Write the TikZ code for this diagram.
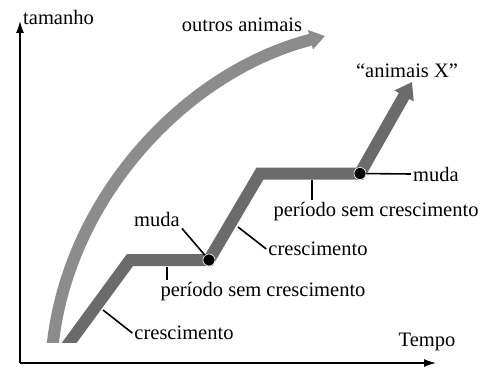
\documentclass[tikz,border=0pt]{standalone}
\usepackage{fontspec}
\setmainfont{Liberation Serif}
\usetikzlibrary{arrows.meta}
\begin{document}
\begin{tikzpicture}[x=1pt, y=1pt,
        every node/.style={font=\fontsize{20.5}{24}\selectfont, inner sep=2pt},
        axis/.style={line width=1.4pt, -{Latex[length=12pt, width=8pt]}},
        leader/.style={line width=1.6pt},
        band/.style={line width=12pt, line join=miter, miter limit=4},
        muda/.style={circle, fill=black, draw=white, line width=0.6pt, minimum size=12pt, inner sep=0pt}]
        \useasboundingbox (0, 0) rectangle (494, 367);

        % eixos
        \coordinate (o) at (20, 4);
        \coordinate (ytop) at (20, 346);
        \coordinate (xend) at (436, 4);
        \draw[axis] (o) -- (ytop);
        \draw[axis] (o) -- (xend);
        \node[anchor=west] (tam) at (21, 350) {tamanho};
        \node (tempo) at (427, 25) {Tempo};

        % animais X
        \coordinate (s0) at (64, 17);
        \coordinate (s1) at (130, 107);
        \node[muda] (m1) at (209, 107) {};
        \coordinate (s2) at (260, 193.5);
        \node[muda] (m2) at (360, 193.5) {};
        \coordinate (xtip) at (412, 285);

        \begin{scope}
            \clip (0, 25) rectangle (494, 367);
            % outros animais
            \draw[band, draw=black!45, -{Triangle[length=15pt, width=19pt]}]
                (52, 17) -- (53, 25) .. controls (70, 170) and (185, 295) .. (325, 331);
            \draw[band, draw=black!58, -{Triangle[length=16pt, width=21pt]}]
                (s0) -- (s1) -- (m1.center) -- (s2) -- (m2.center) -- (xtip);
        \end{scope}
        \node[muda] at (m1) {};
        \node[muda] at (m2) {};
        \node (outros) at (242, 342) {outros animais};
        \node (animx) at (407, 296) {``animais X''};

        % legendas
        \node (cresc1) at (184, 34) {crescimento};
        \coordinate (g1) at (103, 57);
        \draw[leader] (g1) -- (cresc1.west);

        \node (per1) at (263, 75) {período sem crescimento};
        \coordinate (p1) at (167, 100);
        \draw[leader] (p1) -- (p1 |- per1.north);

        \node (muda1) at (157, 148) {muda};
        \draw[leader] (m1) -- (muda1.south east);

        \node (cresc2) at (318, 118) {crescimento};
        \coordinate (g2) at (238, 140);
        \draw[leader] (g2) -- (cresc2.west);

        \node (per2) at (376, 155) {período sem crescimento};
        \coordinate (p2) at (312, 187);
        \draw[leader] (p2) -- (p2 |- per2.north);

        \node (muda2) at (436, 193) {muda};
        \draw[leader] (m2) -- (muda2.west);
    \end{tikzpicture}
\end{document}
